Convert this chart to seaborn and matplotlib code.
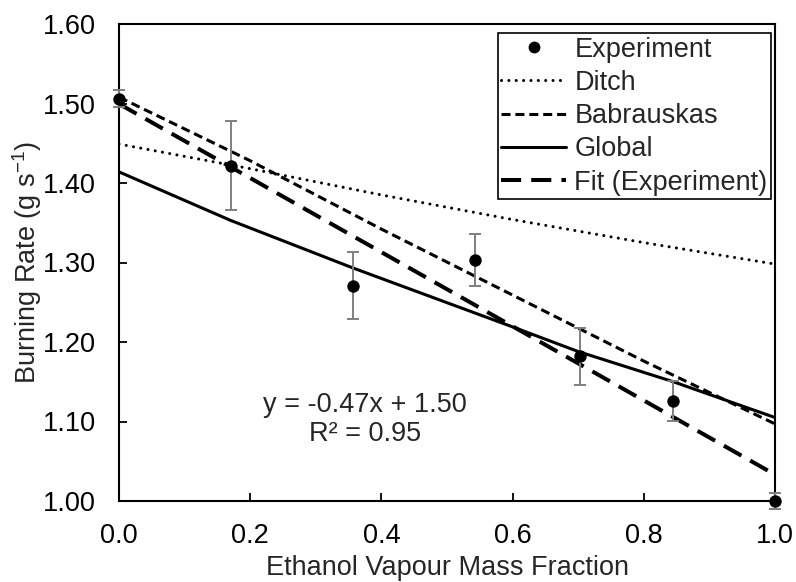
import numpy as np
import pandas as pd
import matplotlib
matplotlib.use("Agg")
import matplotlib.pyplot as plt
import seaborn as sns
from matplotlib.lines import Line2D

# ---- data ----
exp_x = [0.0, 0.170, 0.357, 0.542, 0.703, 0.845, 1.0]
exp_y = [1.506, 1.422, 1.271, 1.303, 1.182, 1.126, 1.000]
exp_err = [0.011, 0.056, 0.042, 0.033, 0.036, 0.025, 0.010]

ditch_x = [0.0, 0.2, 0.4, 0.6, 0.8, 1.0]
ditch_y = [1.449, 1.418, 1.385, 1.354, 1.325, 1.298]

babr_x = [0.0, 0.2, 0.4, 0.6, 0.8, 1.0]
babr_y = [1.508, 1.428, 1.342, 1.259, 1.176, 1.097]

glob_x = [0.0, 0.17, 0.357, 0.6, 0.7, 0.845, 1.0]
glob_y = [1.414, 1.353, 1.293, 1.219, 1.188, 1.150, 1.105]

xticks = [0.0, 0.2, 0.4, 0.6, 0.8, 1.0]
yticks = [1.00, 1.10, 1.20, 1.30, 1.40, 1.50, 1.60]

# linear trendline of the experiment (as in the reference)
slope, intercept = np.polyfit(exp_x, exp_y, 1)
fit_x = [0.0, 1.0]
fit_y = [intercept + slope * v for v in fit_x]
r2 = np.corrcoef(exp_x, exp_y)[0, 1] ** 2

sns.set_theme(style="ticks")
plt.rcParams['font.family'] = ['Liberation Sans', 'DejaVu Sans']
plt.rcParams['mathtext.fontset'] = 'custom'
plt.rcParams['mathtext.rm'] = 'Liberation Sans'
FS = 19.5

fig = plt.figure(figsize=(7.96, 5.82), dpi=100)
ax = fig.add_axes([119/796, 81/582, (775-119)/796, (501-24)/582])

ditch_kw = dict(color='black', lw=2.2, linestyle=(0, (0.01, 2.4)), dash_capstyle='round')
babr_kw = dict(color='black', lw=2.2, linestyle=(0, (2.95, 1.6)), dash_capstyle='butt')
glob_kw = dict(color='black', lw=2.2)
fit_kw = dict(color='black', lw=2.9, linestyle=(0, (5.0, 2.5)), dash_capstyle='butt')

sns.lineplot(x=ditch_x, y=ditch_y, ax=ax, zorder=2, **ditch_kw)
sns.lineplot(x=babr_x, y=babr_y, ax=ax, zorder=2, **babr_kw)
sns.lineplot(x=glob_x, y=glob_y, ax=ax, zorder=2, **glob_kw)
sns.lineplot(x=fit_x, y=fit_y, ax=ax, zorder=2, **fit_kw)

eb = ax.errorbar(exp_x, exp_y, yerr=exp_err, fmt='none', ecolor='#7f7f7f',
                 elinewidth=1.4, capsize=4.5, capthick=1.4, zorder=3)
for art in eb.get_children():
    art.set_clip_on(False)
sns.scatterplot(x=exp_x, y=exp_y, ax=ax, color='black', s=80, edgecolor='black',
                linewidth=0, zorder=4, clip_on=False)

ax.set_xlim(0, 1.0)
ax.set_ylim(1.0, 1.6)
ax.set_xticks(xticks)
ax.set_yticks(yticks)
ax.set_xticklabels([f"{v:.1f}" for v in xticks], fontsize=FS)
ax.set_yticklabels([f"{v:.2f}" for v in yticks], fontsize=FS)
ax.tick_params(direction='in', length=6, width=1.3, colors='black')
ax.tick_params(axis='y', pad=16.5)
ax.tick_params(axis='x', pad=16)
for s in ax.spines.values():
    s.set_visible(True)
    s.set_linewidth(1.5)
    s.set_color('black')

ax.set_xlabel("Ethanol Vapour Mass Fraction", fontsize=FS, labelpad=4)
ax.set_ylabel(r"Burning Rate (g s$^{\mathregular{-1}}$)", fontsize=FS, labelpad=-1)

ax.text(0.375, 1.103, f"y = {slope:.2f}x + {intercept:.2f}\nR² = {r2:.2f}",
        ha='center', va='center', fontsize=FS, linespacing=1.15)

handles = [
    Line2D([], [], color='black', marker='o', ls='none', markersize=7.5),
    Line2D([], [], **ditch_kw),
    Line2D([], [], **babr_kw),
    Line2D([], [], **glob_kw),
    Line2D([], [], **fit_kw),
]
labels = ["Experiment", "Ditch", "Babrauskas", "Global", "Fit (Experiment)"]
leg = ax.legend(handles, labels, loc='upper right', bbox_to_anchor=(0.9934, 0.9805),
                fontsize=FS, frameon=True, fancybox=False, edgecolor='black',
                handlelength=2.4, handletextpad=0.3, borderpad=0.12,
                labelspacing=0.27, borderaxespad=0.0)
leg.get_frame().set_linewidth(1.2)
leg.get_frame().set_alpha(1)

fig.savefig("out.png", dpi=100)
